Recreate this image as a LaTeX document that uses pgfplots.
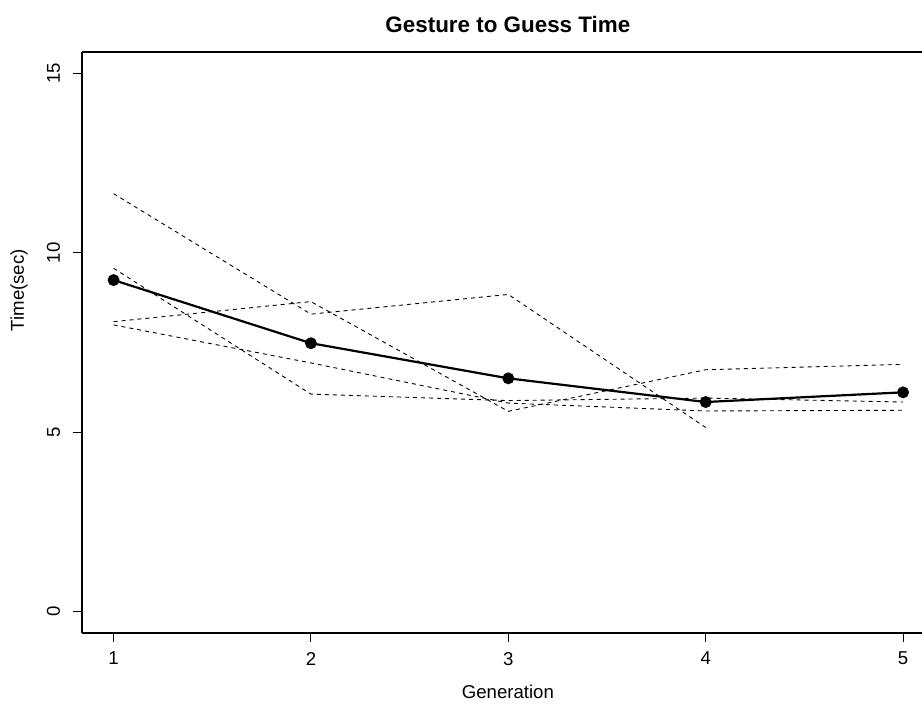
\documentclass[border=0pt]{standalone}
\usepackage{pgfplots}
\pgfplotsset{compat=1.18}
\usepackage{fontspec}
\setmainfont{Liberation Sans}

\begin{document}
\begin{tikzpicture}
\begin{axis}[
  at={(0,0)}, anchor=south west,
  scale only axis, width=420pt, height=290.5pt,
  xmin=0.84, xmax=5.096, ymin=-0.6, ymax=15.6,
  axis y line*=left, axis x line*=box,
  axis line style={line width=0.6pt},
  xtick={1,2,3,4,5}, ytick={0,5,10,15},
  xtick pos=left, ytick pos=left,
  tick align=outside, major tick length=4.5pt,
  tick style={line width=0.5pt, black},
  /pgf/number format/assume math mode=true,
  ticklabel style={font=\fontsize{9.3}{11}\selectfont},
  xticklabel style={anchor=north, yshift=-1.5pt},
  yticklabel style={rotate=90, anchor=base, inner sep=0pt, yshift=6.5pt},
  title={\textbf{Gesture to Guess Time}},
  title style={at={(axis description cs:0.507,1)}, anchor=base, yshift=3.5pt, font=\fontsize{11.2}{13}\selectfont},
  xlabel={Generation},
  xlabel style={at={(axis description cs:0.507,0)}, anchor=base, yshift=-33pt, font=\fontsize{9.3}{11}\selectfont},
  ylabel={Time(sec)},
  ylabel style={at={(axis description cs:0,0.59)}, anchor=base, rotate=0, yshift=29pt, font=\fontsize{9.3}{11}\selectfont},
  clip=false,
]
% individual runs (dashed)
\addplot[black, line width=0.45pt, dash pattern=on 2pt off 2pt] coordinates {(1,11.65)(2,8.29)(3,8.84)(4,5.13)};
\addplot[black, line width=0.45pt, dash pattern=on 2pt off 2pt] coordinates {(1,8.08)(2,8.64)(3,5.58)(4,6.74)(5,6.89)};
\addplot[black, line width=0.45pt, dash pattern=on 2pt off 2pt] coordinates {(1,9.57)(2,6.06)(3,5.88)(4,5.95)(5,5.84)};
\addplot[black, line width=0.45pt, dash pattern=on 2pt off 2pt] coordinates {(1,7.99)(2,6.93)(3,5.81)(4,5.59)(5,5.61)};
% mean
\addplot[black, line width=1.1pt, mark=*, mark size=2.4pt] coordinates {(1,9.24)(2,7.48)(3,6.50)(4,5.84)(5,6.11)};
\end{axis}
\pgfresetboundingbox
\useasboundingbox (-41pt,-35.5pt) rectangle (420pt,316.5pt);
\end{tikzpicture}
\end{document}
